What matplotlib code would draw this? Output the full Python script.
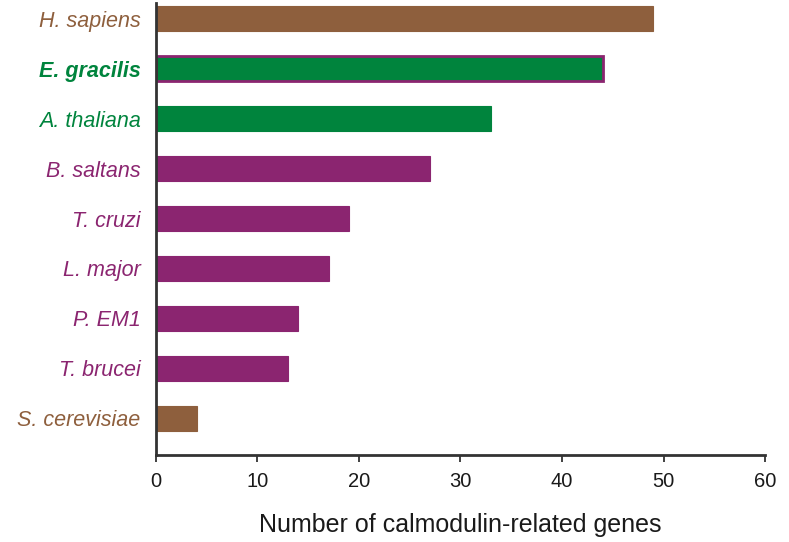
import matplotlib
matplotlib.use("Agg")
import matplotlib.pyplot as plt

species = ["H. sapiens", "E. gracilis", "A. thaliana", "B. saltans", "T. cruzi",
           "L. major", "P. EM1", "T. brucei", "S. cerevisiae"]
counts = [49, 44, 33, 27, 19, 17, 14, 13, 4]
groups = ["animal_fungi", "euglena", "plant", "kineto", "kineto",
          "kineto", "kineto", "kineto", "animal_fungi"]
xticks = [0, 10, 20, 30, 40, 50, 60]

brown = "#8E5F3D"
green = "#00843D"
purple = "#8B2570"
fill_colors = {"animal_fungi": brown, "euglena": green, "plant": green, "kineto": purple}
edge_colors = {"animal_fungi": brown, "euglena": purple, "plant": green, "kineto": purple}
label_colors = {"animal_fungi": brown, "euglena": green, "plant": green, "kineto": purple}

fig = plt.figure(figsize=(7.89, 5.42), dpi=100)
ax = fig.add_axes([0.1977, 0.1605, 0.7719, 0.834])

ypos = list(range(len(species)))
for y, v, g in zip(ypos, counts, groups):
    lw = 2.0 if g == "euglena" else 0.8
    ax.barh(y, v, height=0.5, color=fill_colors[g], edgecolor=edge_colors[g], linewidth=lw)

ax.set_ylim(8.74, -0.32)
ax.set_xlim(0, 60)
ax.set_yticks(ypos)
ax.set_yticklabels(species)
for lab, g in zip(ax.get_yticklabels(), groups):
    lab.set_color(label_colors[g])
    lab.set_fontstyle("italic")
    lab.set_fontfamily("Liberation Sans")
    lab.set_fontsize(15.5)
    if g == "euglena":
        lab.set_fontweight("bold")
ax.tick_params(axis="y", length=0, pad=11)

ax.set_xticks(xticks)
ax.set_xticklabels([str(t) for t in xticks], fontfamily="Liberation Sans", fontsize=14.5,
                   color="#1a1a1a")
ax.tick_params(axis="x", length=5, width=1.3, color="#333333", pad=7)

for s in ["top", "right"]:
    ax.spines[s].set_visible(False)
for s in ["left", "bottom"]:
    ax.spines[s].set_linewidth(2)
    ax.spines[s].set_color("#333333")

ax.set_xlabel("Number of calmodulin-related genes", fontfamily="Liberation Sans", fontsize=18,
              color="#1a1a1a", labelpad=16)

fig.savefig("out.png", dpi=100)
